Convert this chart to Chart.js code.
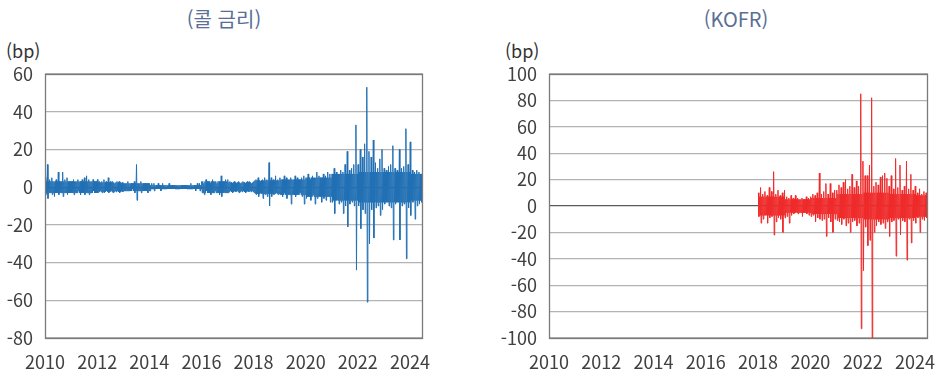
<!DOCTYPE html>
<html lang="ko">
<head>
  <meta charset="UTF-8">
  <title>콜 금리 / KOFR 일별 변동</title>
  <script src="https://cdn.jsdelivr.net/npm/chart.js"></script>
  <style>
    body { margin: 0; width: 942px; height: 376px; background: #fff; position: relative; overflow: hidden;
           font-family: "Noto Sans CJK KR", "Noto Sans", sans-serif; }
    .title { position: absolute; top: 7px; width: 200px; text-align: center; font-size: 20px; line-height: 24px; color: #5a6f96; }
    .unit { position: absolute; top: 40px; font-size: 18px; line-height: 20px; color: #333; }
    .box { position: absolute; top: 60px; height: 316px; }
  </style>
</head>
<body>
  <div class="title" style="left:124px">(콜 금리)</div>
  <div class="title" style="left:636px">(KOFR)</div>
  <div class="unit" style="left:6px">(bp)</div>
  <div class="unit" style="left:505px">(bp)</div>
  <div class="box" style="left:0;width:440px"><canvas id="callChart"></canvas></div>
  <div class="box" style="left:500px;width:442px"><canvas id="kofrChart"></canvas></div>

  <script>
    // daily changes (bp):
    // monthly high / low, plus the typical daily band of each year
    // call rate: Jan 2010 .. Jun 2024
    const callStart = 2010;
    const callHigh = [
      5, 12, 4, 5, 3, 4, 8, 3, 8, 4, 5, 3,
      3, 4, 3, 4, 3, 4, 5, 6, 4, 3, 4, 3,
      4, 3, 3, 4, 3, 5, 3, 3, 2, 3, 3, 2,
      2, 2, 3, 2, 2, 3, 12, 2, 3, 2, 2, 2,
      2, 2, 2, 1, 2, 1, 2, 1, 1, 2, 1, 1,
      1, 1, 1, 1, 1, 1, 1, 2, 1, 1, 2, 2,
      3, 2, 4, 3, 2, 4, 3, 2, 3, 6, 3, 4,
      4, 3, 2, 3, 2, 3, 2, 3, 2, 3, 3, 2,
      3, 4, 5, 3, 4, 5, 4, 13, 5, 4, 6, 4,
      5, 4, 6, 5, 4, 5, 4, 6, 5, 4, 5, 6,
      5, 7, 4, 6, 5, 8, 6, 5, 7, 6, 8, 7,
      7, 10, 8, 7, 9, 8, 12, 19, 9, 10, 12, 33,
      12, 20, 16, 23, 53, 19, 16, 25, 13, 10, 15, 20,
      10, 9, 11, 12, 22, 10, 9, 20, 10, 11, 31, 12,
      24, 9, 8, 9, 8, 7
    ];
    const callLow = [
      -4, -6, -3, -4, -5, -3, -4, -3, -5, -3, -4, -3,
      -3, -4, -3, -2, -4, -3, -4, -3, -4, -3, -2, -3,
      -3, -2, -3, -3, -2, -3, -2, -3, -2, -2, -3, -2,
      -2, -2, -2, -2, -1, -3, -7, -2, -3, -2, -2, -3,
      -2, -1, -2, -1, -1, -2, -1, -1, -1, -1, -1, -1,
      -1, -1, -1, -1, -1, -1, -1, -1, -1, -2, -1, -2,
      -3, -4, -2, -3, -4, -3, -2, -3, -4, -5, -3, -3,
      -3, -2, -3, -2, -2, -3, -2, -2, -3, -2, -2, -2,
      -3, -4, -5, -3, -6, -4, -5, -10, -5, -4, -3, -4,
      -4, -5, -3, -6, -4, -9, -4, -5, -4, -3, -5, -9,
      -6, -5, -7, -4, -9, -6, -5, -8, -6, -7, -5, -8,
      -8, -14, -7, -9, -8, -14, -10, -21, -9, -8, -10, -44,
      -10, -22, -12, -14, -61, -30, -12, -27, -11, -10, -15, -12,
      -9, -8, -10, -11, -28, -9, -8, -28, -10, -9, -38, -11,
      -15, -8, -17, -10, -9, -8
    ];
    // 2010 .. 2024
    const callBand = [3, 3, 2.5, 2, 1, 1, 3, 2.5, 3.5, 4, 5, 7, 8, 8, 7];

    // KOFR: Jan 2018 .. Jun 2024
    const kofrStart = 2018;
    const kofrHigh = [
      10, 14, 9, 11, 8, 14, 11, 26, 9, 12, 8, 10,
      12, 7, 6, 8, 6, 8, 6, 5, 6, 5, 7, 6,
      7, 9, 8, 10, 25, 9, 11, 17, 9, 17, 10, 12,
      12, 16, 14, 18, 20, 13, 15, 24, 14, 19, 15, 85,
      34, 23, 23, 31, 82, 15, 18, 16, 22, 23, 25, 21,
      15, 23, 13, 36, 14, 31, 12, 15, 34, 13, 24, 12,
      15, 10, 13, 9, 11, 10
    ];
    const kofrLow = [
      -8, -13, -10, -7, -13, -9, -8, -22, -12, -9, -10, -20,
      -9, -8, -13, -7, -6, -5, -6, -5, -8, -5, -6, -7,
      -8, -7, -12, -9, -10, -11, -10, -23, -9, -12, -20, -10,
      -11, -12, -14, -10, -15, -13, -20, -12, -11, -15, -13, -93,
      -49, -16, -30, -26, -100, -20, -15, -12, -14, -13, -17, -12,
      -23, -12, -11, -38, -10, -22, -11, -12, -41, -10, -28, -11,
      -13, -9, -20, -10, -11, -9
    ];
    // 2018 .. 2024
    const kofrBand = [7, 5, 6, 9, 10, 9, 8];

    const callTicks = [-80, 60];
    const kofrTicks = [-100, 100];
    const xRange = [2010, 2024.5];

    // each month: high, low, then the year's usual band
    function buildPoints(start, highs, lows, band) {
      const pts = [];
      for (let i = 0; i < highs.length; i++) {
        const b = band[Math.floor(i / 12)];
        pts.push({ x: start + (i + 0.125) / 12, y: highs[i] });
        pts.push({ x: start + (i + 0.375) / 12, y: lows[i] });
        pts.push({ x: start + (i + 0.625) / 12, y: b });
        pts.push({ x: start + (i + 0.875) / 12, y: -b });
      }
      return pts;
    }

    Chart.defaults.font.family = '"Noto Sans CJK KR", "Noto Sans", sans-serif';
    Chart.defaults.color = '#404040';

    const frame = {
      id: 'frame',
      afterDatasetsDraw(chart) {
        const a = chart.chartArea, c = chart.ctx;
        c.save();
        c.strokeStyle = '#7a7a7a';
        c.lineWidth = 1.3;
        c.strokeRect(Math.round(a.left) + 0.5, Math.round(a.top) + 0.5,
                     Math.round(a.right - a.left) - 1, Math.round(a.bottom - a.top));
        c.restore();
      }
    };

    function makeChart(id, points, color, yr, yWidth, padRight) {
      return new Chart(document.getElementById(id), {
        type: 'line',
        data: {
          datasets: [{
            data: points,
            borderColor: color,
            borderWidth: 1,
            pointRadius: 0,
            tension: 0
          }]
        },
        options: {
          responsive: true,
          maintainAspectRatio: false,
          animation: false,
          layout: { padding: { top: 14, right: padRight, left: 0, bottom: 0 } },
          plugins: { legend: { display: false }, tooltip: { enabled: false } },
          scales: {
            x: {
              type: 'linear',
              min: xRange[0],
              max: xRange[1],
              afterFit: s => { s.height = 38; s.paddingLeft = 0; s.paddingRight = 0; },
              grid: { display: false, drawTicks: false },
              border: { display: false },
              ticks: {
                stepSize: 2,
                includeBounds: false,
                autoSkip: false,
                maxRotation: 0,
                padding: 13,
                font: { size: 18 },
                callback: v => (Number.isInteger(v) ? String(v) : '')
              }
            },
            y: {
              min: yr[0],
              max: yr[1],
              afterFit: s => { s.width = yWidth; s.paddingTop = 0; s.paddingBottom = 0; },
              border: { display: false },
              grid: {
                drawTicks: false,
                lineWidth: 1.2,
                color: ctx => (ctx.tick && ctx.tick.value === 0 ? '#5a5a5a' : '#b3b3b3')
              },
              ticks: { stepSize: 20, padding: 12, font: { size: 18 } }
            }
          }
        },
        plugins: [frame]
      });
    }

    makeChart('callChart', buildPoints(callStart, callHigh, callLow, callBand), '#2270b4', callTicks, 45, 17);
    makeChart('kofrChart', buildPoints(kofrStart, kofrHigh, kofrLow, kofrBand), '#ef2b2b', kofrTicks, 49, 14);
  </script>
</body>
</html>
